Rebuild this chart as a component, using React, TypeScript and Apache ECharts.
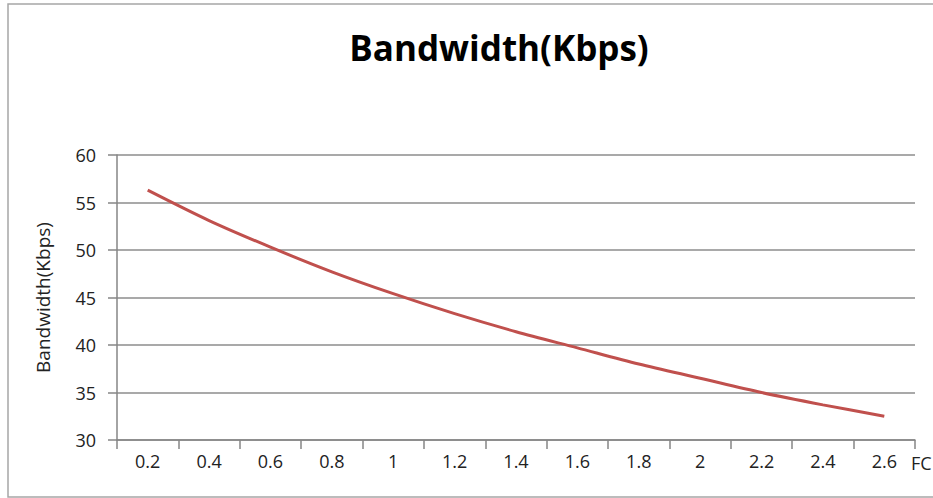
import React, { useEffect, useRef } from "react";
import * as echarts from "echarts";

const categories = ["0.2", "0.4", "0.6", "0.8", "1", "1.2", "1.4", "1.6", "1.8", "2", "2.2", "2.4", "2.6"];
const bandwidth = [56.3, 53.1, 50.3, 47.7, 45.4, 43.3, 41.4, 39.7, 38.0, 36.5, 35.0, 33.7, 32.5];
const titleText = "Bandwidth(Kbps)";
const yAxisName = "Bandwidth(Kbps)";
const xAxisName = "FC";

export default function App() {
  const ref = useRef<HTMLDivElement>(null);
  useEffect(() => {
    if (!ref.current) return;
    const chart = echarts.init(ref.current, null, { renderer: "svg" });
    const font = "'Open Sans', 'Noto Sans', sans-serif";
    chart.setOption({
      animation: false,
      backgroundColor: "#ffffff",
      graphic: [
        {
          type: "rect",
          shape: { x: 8, y: 4, width: 1000, height: 493 },
          style: { fill: "none", stroke: "#a6a6a6", lineWidth: 1.5 },
          silent: true,
        },
        {
          type: "text",
          x: 499,
          y: 47,
          style: {
            text: titleText,
            font: `bold 35px ${font}`,
            fill: "#000",
            align: "center",
            verticalAlign: "middle",
          },
        },
        {
          type: "text",
          x: 911,
          y: 463,
          style: { text: xAxisName, font: `18px ${font}`, fill: "#222", verticalAlign: "middle" },
        },
      ],
      grid: { left: 117, right: 18, top: 155, bottom: 58, containLabel: false },
      xAxis: {
        type: "category",
        data: categories,
        boundaryGap: true,
        axisLine: { show: true, lineStyle: { color: "#868686", width: 1.5 } },
        axisTick: { show: true, length: 9, interval: 0, lineStyle: { color: "#868686", width: 1.5 } },
        axisLabel: { interval: 0, margin: 12, fontFamily: font, fontSize: 18, color: "#222" },
        splitLine: { show: false },
      },
      yAxis: {
        type: "value",
        min: 30,
        max: 60,
        interval: 5,
        name: yAxisName,
        nameLocation: "middle",
        nameGap: 65,
        nameRotate: 90,
        nameTextStyle: { fontFamily: font, fontSize: 19, color: "#222" },
        axisLine: { show: true, lineStyle: { color: "#868686", width: 1.5 } },
        axisTick: { show: true, length: 9, lineStyle: { color: "#868686", width: 1.5 } },
        axisLabel: { margin: 21, fontFamily: font, fontSize: 18, color: "#222" },
        splitLine: { show: true, lineStyle: { color: "#8c8c8c", width: 1.5 } },
      },
      series: [
        {
          type: "line",
          data: bandwidth,
          smooth: 0.3,
          showSymbol: false,
          symbol: "none",
          lineStyle: { color: "#C0504D", width: 3 },
          itemStyle: { color: "#C0504D" },
        },
      ],
    });
    return () => chart.dispose();
  }, []);
  return (
    <div
      ref={ref}
      style={{ position: "fixed", left: 0, top: 0, width: 933, height: 498 }}
    />
  );
}
